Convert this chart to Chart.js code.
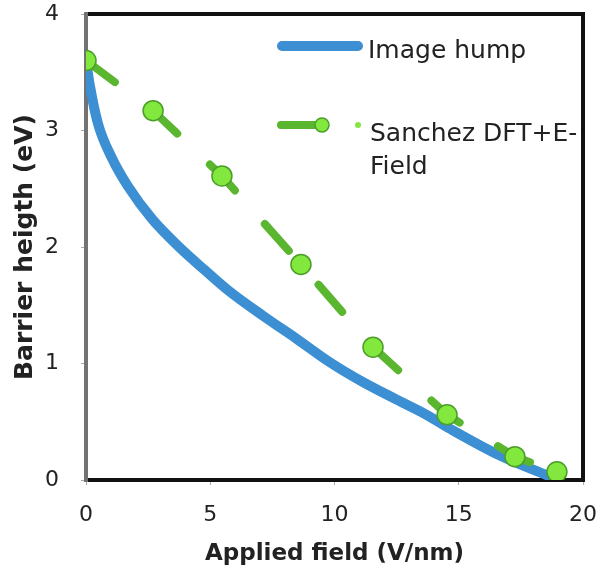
<!DOCTYPE html>
<html>
<head>
<meta charset="utf-8">
<script src="https://cdn.jsdelivr.net/npm/chart.js@4"></script>
<style>
  html, body { margin: 0; padding: 0; background: #fff; }
  #wrap { width: 600px; height: 578px; }
</style>
</head>
<body>
<div id="wrap"><canvas id="barrierChart" width="600" height="578"></canvas></div>
<script>
// image hump curve
const humpField = [0, 0.16, 0.48, 1.05, 1.69, 2.66, 3.70, 4.79, 5.71, 7.12, 8.49, 9.82, 11.15, 12.5, 13.7, 14.65, 16.66, 18.67, 19.0];
const humpBarrier = [3.60, 3.38, 3.06, 2.76, 2.52, 2.24, 2.01, 1.80, 1.63, 1.41, 1.21, 1.01, 0.84, 0.69, 0.56, 0.44, 0.21, 0.03, 0.0];

// Sanchez DFT + E-field points
const dftField = [0, 2.70, 5.47, 8.65, 11.55, 14.53, 17.26, 18.95];
const dftBarrier = [3.60, 3.17, 2.61, 1.85, 1.14, 0.56, 0.20, 0.07];

const xTicks = [0, 5, 10, 15, 20];
const yTicks = [0, 1, 2, 3, 4];

const seriesNames = ['Image hump', 'Sanchez DFT+E-', 'Field'];

const BLUE = '#3b8fd2';
const GREEN_LINE = '#5ab52f';
const GREEN_FILL = '#82e83e';
const GREEN_EDGE = '#4c9e2a';
const TEXT = '#222';

function toPoints(xs, ys) {
    return xs.map((x, i) => ({ x: x, y: ys[i] }));
}

// black frame on top/right/bottom, grey on the left
const framePlugin = {
    id: 'frame',
    beforeDatasetsDraw(chart) {
        const { ctx, chartArea: a } = chart;
        ctx.save();
        ctx.lineWidth = 4;
        ctx.strokeStyle = '#111';
        ctx.beginPath();
        ctx.moveTo(a.left, a.top);
        ctx.lineTo(a.right, a.top);
        ctx.lineTo(a.right, a.bottom);
        ctx.lineTo(a.left, a.bottom);
        ctx.stroke();
        ctx.strokeStyle = '#727272';
        ctx.beginPath();
        ctx.moveTo(a.left, a.top - 2);
        ctx.lineTo(a.left, a.bottom + 2);
        ctx.stroke();
        ctx.restore();
    }
};

// legend drawn inside the plot, top right
const insideLegend = {
    id: 'insideLegend',
    afterDraw(chart) {
        const { ctx } = chart;
        ctx.save();
        ctx.lineCap = 'round';
        // blue entry
        ctx.strokeStyle = BLUE;
        ctx.lineWidth = 10;
        ctx.beginPath();
        ctx.moveTo(282, 46);
        ctx.lineTo(358, 46);
        ctx.stroke();
        // green entry
        ctx.strokeStyle = GREEN_LINE;
        ctx.lineWidth = 8;
        ctx.beginPath();
        ctx.moveTo(281, 125);
        ctx.lineTo(320, 125);
        ctx.stroke();
        ctx.fillStyle = GREEN_FILL;
        ctx.strokeStyle = GREEN_EDGE;
        ctx.lineWidth = 1.5;
        ctx.beginPath();
        ctx.arc(322, 125, 7, 0, Math.PI * 2);
        ctx.fill();
        ctx.stroke();
        ctx.beginPath();
        ctx.arc(358, 125, 3, 0, Math.PI * 2);
        ctx.fill();

        ctx.fillStyle = TEXT;
        ctx.font = '25px "DejaVu Sans"';
        ctx.textBaseline = 'middle';
        ctx.textAlign = 'left';
        ctx.fillText(seriesNames[0], 368, 51);
        ctx.fillText(seriesNames[1], 370, 134);
        ctx.fillText(seriesNames[2], 370, 167);
        ctx.restore();
    }
};

const ctx = document.getElementById('barrierChart').getContext('2d');

new Chart(ctx, {
    type: 'line',
    data: {
        datasets: [
            {
                label: 'Sanchez DFT+E-Field',
                data: toPoints(dftField, dftBarrier),
                borderColor: GREEN_LINE,
                borderWidth: 8,
                borderDash: [36, 45],
                borderCapStyle: 'round',
                tension: 0,
                pointRadius: 10,
                pointBackgroundColor: GREEN_FILL,
                pointBorderColor: GREEN_EDGE,
                pointBorderWidth: 1.5,
                fill: false,
                order: 1
            },
            {
                label: 'Image hump',
                data: toPoints(humpField, humpBarrier),
                borderColor: BLUE,
                borderWidth: 10,
                borderCapStyle: 'round',
                borderJoinStyle: 'round',
                cubicInterpolationMode: 'monotone',
                pointRadius: 0,
                fill: false,
                order: 2
            }
        ]
    },
    options: {
        responsive: false,
        animation: false,
        layout: { padding: { top: 14, right: 17, left: 0, bottom: 0 } },
        plugins: {
            legend: { display: false },
            tooltip: { enabled: false }
        },
        scales: {
            x: {
                type: 'linear',
                min: 0,
                max: 20,
                afterFit: s => { s.height = 98; s.paddingLeft = 0; s.paddingRight = 0; },
                afterBuildTicks: s => { s.ticks = xTicks.map(v => ({ value: v })); },
                border: { display: false },
                grid: { drawOnChartArea: false, drawTicks: true, tickLength: 5, color: '#aaa' },
                ticks: {
                    color: TEXT,
                    padding: 17,
                    maxRotation: 0,
                    font: { family: 'DejaVu Sans', size: 22 }
                },
                title: {
                    display: true,
                    text: 'Applied field (V/nm)',
                    color: TEXT,
                    padding: { top: 0, bottom: 10 },
                    font: { family: 'DejaVu Sans', size: 23, weight: 'bold' }
                }
            },
            y: {
                type: 'linear',
                min: 0,
                max: 4,
                afterFit: s => { s.width = 86; s.paddingTop = 0; s.paddingBottom = 0; },
                afterBuildTicks: s => { s.ticks = yTicks.map(v => ({ value: v })); },
                border: { display: false },
                grid: { drawOnChartArea: false, drawTicks: true, tickLength: 5, color: '#aaa' },
                ticks: {
                    color: TEXT,
                    padding: 22,
                    font: { family: 'DejaVu Sans', size: 22 }
                },
                title: {
                    display: true,
                    text: 'Barrier heigth (eV)',
                    color: TEXT,
                    padding: { top: 10, bottom: 0 },
                    font: { family: 'DejaVu Sans', size: 25, weight: 'bold' }
                }
            }
        }
    },
    plugins: [framePlugin, insideLegend]
});
</script>
</body>
</html>
